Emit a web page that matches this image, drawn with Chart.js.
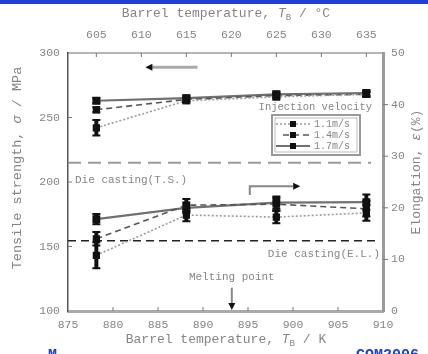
<!DOCTYPE html>
<html>
<head>
<meta charset="utf-8">
<script src="https://cdn.jsdelivr.net/npm/chart.js@4.4.0/dist/chart.umd.min.js"></script>
<style>
  html, body { margin: 0; padding: 0; background: #fff; }
</style>
</head>
<body>
<canvas id="chart" width="428" height="354"></canvas>
<script>
// barrel temperature of the measured points (K), 605/615/625/635 degC
const tempsK = [878.15, 888.15, 898.15, 908.15];
const velocities = ["1.1m/s", "1.4m/s", "1.7m/s"];

// tensile strength (MPa), left axis
const tensile11 = [242, 263, 266, 268];
const tensile14 = [256, 264, 267, 268];
const tensile17 = [263, 265, 268, 269];
const tensileErr11 = [6, 2, 2, 2];
const tensileErr14 = [2, 2, 2, 2];
const tensileErr17 = [2, 2, 2, 2];

// elongation (%), right axis
const elong11 = [10.8, 18.6, 18.2, 19.0];
const elong14 = [14.0, 20.5, 20.7, 19.8];
const elong17 = [17.8, 20.0, 21.0, 21.1];
const elongErr11 = [2.5, 1.2, 1.2, 1.5];
const elongErr14 = [1.3, 1.2, 1.2, 1.5];
const elongErr17 = [1.0, 1.0, 1.2, 1.5];

// reference levels
const dieCastTS = 215;     // MPa
const dieCastEL = 13.6;    // %
const meltingPointK = 893.2;

// tick labels
const bottomTicks = [875, 880, 885, 890, 895, 900, 905, 910];
const topTicks = [605, 610, 615, 620, 625, 630, 635];
const leftTicks = [100, 150, 200, 250, 300];
const rightTicks = [0, 10, 20, 30, 40, 50];

const MONO = "'Liberation Mono', 'DejaVu Sans Mono', monospace";
const TXT = "#858585";

const lineStyles = [
    { borderColor: "#9a9a9a", borderDash: [2, 2], borderWidth: 1.6 },
    { borderColor: "#555555", borderDash: [6, 4], borderWidth: 1.6 },
    { borderColor: "#707070", borderDash: [], borderWidth: 2.2 },
];

function series(label, ys, errs, axis, style) {
    return {
        label: label,
        data: tempsK.map((x, i) => ({ x: x, y: ys[i] })),
        errs: errs,
        yAxisID: axis,
        xAxisID: "x",
        borderColor: style.borderColor,
        borderDash: style.borderDash,
        borderWidth: style.borderWidth,
        pointStyle: "rect",
        pointRadius: 4,
        pointBackgroundColor: "#111",
        pointBorderColor: "#111",
        tension: 0,
        fill: false,
    };
}

const datasets = [
    series(velocities[0], tensile11, tensileErr11, "y", lineStyles[0]),
    series(velocities[1], tensile14, tensileErr14, "y", lineStyles[1]),
    series(velocities[2], tensile17, tensileErr17, "y", lineStyles[2]),
    series(velocities[0], elong11, elongErr11, "y2", lineStyles[0]),
    series(velocities[1], elong14, elongErr14, "y2", lineStyles[1]),
    series(velocities[2], elong17, elongErr17, "y2", lineStyles[2]),
];

// draw text made of parts (plain / italic / subscript)
function drawParts(ctx, parts, x, y, size) {
    let widths = parts.map(p => {
        ctx.font = (p.italic ? "italic " : "") + (p.sub ? size * 0.7 : size) + "px " + MONO;
        return ctx.measureText(p.t).width;
    });
    let total = widths.reduce((a, b) => a + b, 0);
    let cx = x - total / 2;
    parts.forEach((p, i) => {
        ctx.font = (p.italic ? "italic " : "") + (p.sub ? size * 0.7 : size) + "px " + MONO;
        ctx.fillText(p.t, cx, p.sub ? y + size * 0.3 : y);
        cx += widths[i];
    });
}

function arrowHead(ctx, x, y, dir, size) {
    ctx.save();
    ctx.translate(x, y);
    ctx.rotate(dir);
    ctx.beginPath();
    ctx.moveTo(0, 0);
    ctx.lineTo(-size, -size * 0.5);
    ctx.lineTo(-size, size * 0.5);
    ctx.closePath();
    ctx.fill();
    ctx.restore();
}

const decorPlugin = {
    id: "decor",
    beforeDatasetsDraw(chart) {
        const ctx = chart.ctx;
        const a = chart.chartArea;
        const sx = chart.scales.x, sy = chart.scales.y, sy2 = chart.scales.y2;
        ctx.save();
        // die casting (T.S.)
        ctx.strokeStyle = "#9a9a9a";
        ctx.lineWidth = 2;
        ctx.setLineDash([13, 7]);
        ctx.beginPath();
        ctx.moveTo(a.left, sy.getPixelForValue(dieCastTS));
        ctx.lineTo(a.right - 12, sy.getPixelForValue(dieCastTS));
        ctx.stroke();
        // die casting (E.L.)
        ctx.strokeStyle = "#222";
        ctx.lineWidth = 1.4;
        ctx.setLineDash([8, 5]);
        ctx.beginPath();
        ctx.moveTo(a.left, sy2.getPixelForValue(dieCastEL));
        ctx.lineTo(a.right - 3, sy2.getPixelForValue(dieCastEL));
        ctx.stroke();
        ctx.setLineDash([]);
        ctx.restore();
    },
    afterDatasetsDraw(chart) {
        const ctx = chart.ctx;
        const a = chart.chartArea;
        const sx = chart.scales.x, sx2 = chart.scales.x2, sy = chart.scales.y, sy2 = chart.scales.y2;
        ctx.save();

        // error bars
        chart.data.datasets.forEach(ds => {
            const sc = chart.scales[ds.yAxisID];
            ds.data.forEach((p, i) => {
                const px = sx.getPixelForValue(p.x);
                const y1 = sc.getPixelForValue(p.y - ds.errs[i]);
                const y2 = sc.getPixelForValue(p.y + ds.errs[i]);
                ctx.strokeStyle = "#111";
                ctx.lineWidth = 4;
                ctx.beginPath();
                ctx.moveTo(px, y1);
                ctx.lineTo(px, y2);
                ctx.stroke();
                ctx.lineWidth = 2;
                ctx.beginPath();
                ctx.moveTo(px - 4, y1); ctx.lineTo(px + 4, y1);
                ctx.moveTo(px - 4, y2); ctx.lineTo(px + 4, y2);
                ctx.stroke();
            });
        });

        // small inward tick marks
        ctx.strokeStyle = "#777";
        ctx.lineWidth = 1;
        ctx.beginPath();
        bottomTicks.slice(1, -1).forEach(v => {
            const px = sx.getPixelForValue(v);
            ctx.moveTo(px, a.bottom); ctx.lineTo(px, a.bottom - 4);
        });
        topTicks.forEach(v => {
            const px = sx2.getPixelForValue(v);
            ctx.moveTo(px, a.top); ctx.lineTo(px, a.top + 4);
        });
        leftTicks.slice(1, -1).forEach(v => {
            const py = sy.getPixelForValue(v);
            ctx.moveTo(a.left, py); ctx.lineTo(a.left + 4, py);
        });
        rightTicks.slice(1, -1).forEach(v => {
            const py = sy2.getPixelForValue(v);
            ctx.moveTo(a.right, py); ctx.lineTo(a.right + 5, py);
        });
        ctx.stroke();

        // arrow pointing left (tensile curves -> left axis)
        let ay = sy.getPixelForValue(289);
        ctx.strokeStyle = "#aaa";
        ctx.lineWidth = 3;
        ctx.beginPath();
        ctx.moveTo(sx.getPixelForValue(889.4), ay);
        ctx.lineTo(sx.getPixelForValue(884.2), ay);
        ctx.stroke();
        ctx.fillStyle = "#111";
        arrowHead(ctx, sx.getPixelForValue(883.6), ay, Math.PI, 7);

        // bent arrow pointing right (elongation curves -> right axis)
        const bx = sx.getPixelForValue(895.2);
        const by0 = sy2.getPixelForValue(22.5), by1 = sy2.getPixelForValue(24.2);
        const bx1 = sx.getPixelForValue(900.0);
        ctx.strokeStyle = "#888";
        ctx.lineWidth = 2;
        ctx.beginPath();
        ctx.moveTo(bx, by0);
        ctx.lineTo(bx, by1);
        ctx.lineTo(bx1, by1);
        ctx.stroke();
        arrowHead(ctx, sx.getPixelForValue(900.8), by1, 0, 7);

        // melting point arrow
        const mx = sx.getPixelForValue(meltingPointK);
        ctx.strokeStyle = "#888";
        ctx.lineWidth = 2;
        ctx.beginPath();
        ctx.moveTo(mx, sy2.getPixelForValue(4.5));
        ctx.lineTo(mx, a.bottom - 5);
        ctx.stroke();
        arrowHead(ctx, mx, a.bottom - 1, Math.PI / 2, 7);

        // annotations
        ctx.fillStyle = TXT;
        ctx.textBaseline = "middle";
        ctx.font = "11px " + MONO;
        ctx.textAlign = "left";
        ctx.fillText("Die casting(T.S.)", a.left + 7, sy.getPixelForValue(dieCastTS) + 17);
        ctx.textAlign = "right";
        ctx.fillText("Die casting(E.L.)", a.right - 3, sy2.getPixelForValue(dieCastEL) - 13 + 26);
        ctx.textAlign = "center";
        ctx.fillText("Melting point", mx, sy2.getPixelForValue(4.5) - 11);
        ctx.font = "10.5px " + MONO;
        ctx.textAlign = "right";
        ctx.fillText("Injection velocity", a.right - 11, 107);

        // legend box
        const lx = 272, ly = 115, lw = 88, lh = 40;
        ctx.strokeStyle = "#999";
        ctx.lineWidth = 2;
        ctx.strokeRect(lx, ly, lw, lh);
        ctx.strokeStyle = "#bbb";
        ctx.lineWidth = 1;
        ctx.strokeRect(lx + 3, ly + 3, lw - 6, lh - 6);
        velocities.forEach((v, i) => {
            const ry = ly + 9 + i * 11;
            const st = lineStyles[i];
            ctx.strokeStyle = st.borderColor;
            ctx.lineWidth = st.borderWidth;
            ctx.setLineDash(st.borderDash);
            ctx.beginPath();
            ctx.moveTo(lx + (i === 1 ? 11 : 4), ry);
            ctx.lineTo(lx + 38, ry);
            ctx.stroke();
            ctx.setLineDash([]);
            ctx.fillStyle = "#111";
            ctx.fillRect(lx + 18, ry - 3, 6, 6);
            ctx.fillStyle = TXT;
            ctx.font = "10px " + MONO;
            ctx.textAlign = "left";
            ctx.fillText(v, lx + 42, ry);
        });

        // axis titles
        ctx.fillStyle = TXT;
        ctx.textAlign = "left";
        drawParts(ctx, [{ t: "Barrel temperature, " }, { t: "T", italic: true }, { t: "B", sub: true }, { t: " / \u00b0C" }],
            226, 14, 13);
        drawParts(ctx, [{ t: "Barrel temperature, " }, { t: "T", italic: true }, { t: "B", sub: true }, { t: " / K" }],
            226, 340, 13);
        ctx.save();
        ctx.translate(17, 168);
        ctx.rotate(-Math.PI / 2);
        drawParts(ctx, [{ t: "Tensile strength, " }, { t: "\u03c3", italic: true }, { t: " / MPa" }], 0, 0, 13.5);
        ctx.restore();
        ctx.save();
        ctx.translate(417, 172);
        ctx.rotate(-Math.PI / 2);
        drawParts(ctx, [{ t: "Elongation, " }, { t: "\u03b5", italic: true }, { t: "(%)" }], 0, 0, 13);
        ctx.restore();

        // page furniture: blue rule at top and cut-off blue footer text
        ctx.fillStyle = "#1d3fd6";
        ctx.fillRect(0, 0, 428, 4);
        ctx.font = "bold 15px " + MONO;
        ctx.textBaseline = "alphabetic";
        ctx.textAlign = "left";
        ctx.fillText("M", 48, 359);
        ctx.fillText("COM2006", 356, 359);
        ctx.restore();
    },
};

const tickFont = { family: MONO, size: 11.5 };

const ctx = document.getElementById("chart").getContext("2d");
new Chart(ctx, {
    type: "line",
    data: { datasets: datasets },
    options: {
        responsive: false,
        animation: false,
        devicePixelRatio: 1,
        layout: { padding: 0 },
        plugins: {
            legend: { display: false },
            tooltip: { enabled: false },
        },
        scales: {
            x: {
                type: "linear",
                position: "bottom",
                min: 875,
                max: 910,
                afterBuildTicks: s => { s.ticks = bottomTicks.map(v => ({ value: v })); },
                afterFit: s => { s.height = 43; },
                ticks: { color: TXT, font: tickFont, padding: 7, maxRotation: 0, autoSkip: false },
                grid: { drawOnChartArea: false, drawTicks: false },
                border: { display: true, color: "#aaa", width: 3 },
            },
            x2: {
                type: "linear",
                position: "top",
                min: 875 - 273.15,
                max: 910 - 273.15,
                afterBuildTicks: s => { s.ticks = topTicks.map(v => ({ value: v })); },
                afterFit: s => { s.height = 53; },
                ticks: { color: TXT, font: tickFont, padding: 11, maxRotation: 0, autoSkip: false },
                grid: { drawOnChartArea: false, drawTicks: false },
                border: { display: true, color: "#b5b5b5", width: 2 },
            },
            y: {
                type: "linear",
                position: "left",
                min: 100,
                max: 300,
                afterBuildTicks: s => { s.ticks = leftTicks.map(v => ({ value: v })); },
                afterFit: s => { s.width = 68; },
                ticks: { color: TXT, font: tickFont, padding: 8 },
                grid: { drawOnChartArea: false, drawTicks: false },
                border: { display: true, color: "#555", width: 1.5 },
            },
            y2: {
                type: "linear",
                position: "right",
                min: 0,
                max: 50,
                afterBuildTicks: s => { s.ticks = rightTicks.map(v => ({ value: v })); },
                afterFit: s => { s.width = 45; },
                ticks: { color: TXT, font: tickFont, padding: 8 },
                grid: { drawOnChartArea: false, drawTicks: false },
                border: { display: true, color: "#9a9a9a", width: 3 },
            },
        },
    },
    plugins: [decorPlugin],
});
</script>
</body>
</html>
